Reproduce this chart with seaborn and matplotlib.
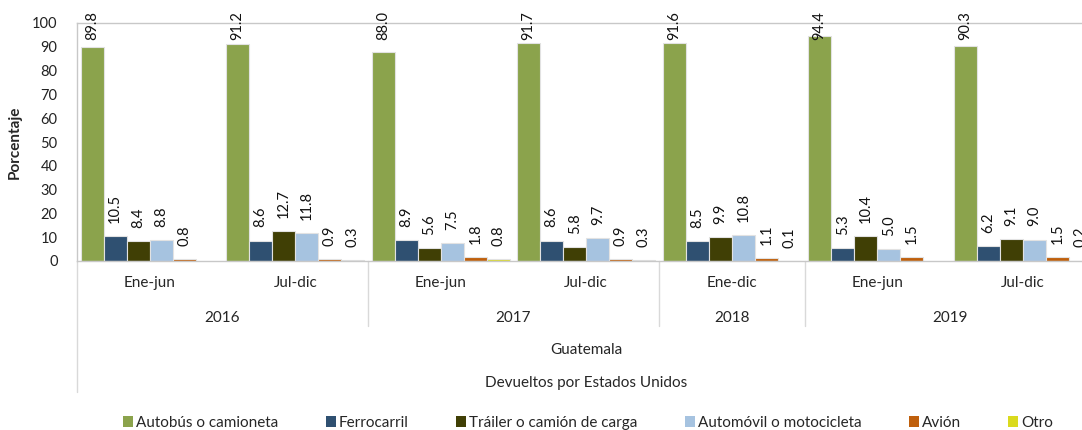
import numpy as np
import pandas as pd
import matplotlib
matplotlib.use("Agg")
import matplotlib.pyplot as plt
from matplotlib.patches import Patch
import seaborn as sns

# periods (year, sub-period)
years = ["2016", "2016", "2017", "2017", "2018", "2019", "2019"]
periods = ["Ene-jun", "Jul-dic", "Ene-jun", "Jul-dic", "Ene-dic", "Ene-jun", "Jul-dic"]

series = ["Autobús o camioneta", "Ferrocarril", "Tráiler o camión de carga",
          "Automóvil o motocicleta", "Avión", "Otro"]
autobus = [89.8, 91.2, 88.0, 91.7, 91.6, 94.4, 90.3]
ferrocarril = [10.5, 8.6, 8.9, 8.6, 8.5, 5.3, 6.2]
trailer = [8.4, 12.7, 5.6, 5.8, 9.9, 10.4, 9.1]
automovil = [8.8, 11.8, 7.5, 9.7, 10.8, 5.0, 9.0]
avion = [0.8, 0.9, 1.8, 0.9, 1.1, 1.5, 1.5]
otro = [np.nan, 0.3, 0.8, 0.3, 0.1, np.nan, 0.2]

colors = ["#8BA34C", "#2F5071", "#403F05", "#A6C3E0", "#BF5F0C", "#DADA1E"]

keys = [y + " " + p for y, p in zip(years, periods)]
rows = []
for name, vals in zip(series, [autobus, ferrocarril, trailer, automovil, avion, otro]):
    for k, v in zip(keys, vals):
        rows.append({"periodo": k, "medio": name, "valor": v})
df = pd.DataFrame(rows).dropna()

sns.set_style("white")
plt.rcParams["font.family"] = ["Lato", "DejaVu Sans"]
fs = 10.5   # numbers
ft = 11     # words

fig = plt.figure(figsize=(10.82, 4.30), dpi=100)
ax = fig.add_axes([77 / 1082, 169 / 430, 7 * 145.5 / 1082, 238 / 430])

sns.barplot(data=df, x="periodo", y="valor", hue="medio", order=keys,
            hue_order=series, palette=colors, width=0.95, saturation=1,
            edgecolor="#E2E2E2", linewidth=0.8, legend=False, ax=ax)

ax.set_ylim(0, 100)
ax.set_xlim(-0.5, 6.5)
ax.set_yticks(range(0, 101, 10))
ax.tick_params(axis="y", length=0, pad=14, labelsize=fs, labelcolor="#222222")
ax.tick_params(axis="x", length=0)
ax.set_xticklabels([])
ax.set_xlabel("")
ax.set_ylabel("Porcentaje", fontsize=ft, fontweight="bold")
ax.yaxis.set_label_coords(-0.054, 0.5)
for s in ["top", "left", "bottom", "right"]:
    ax.spines[s].set_color("#C8C8C8")
    ax.spines[s].set_linewidth(1)

# data labels
for cont in ax.containers:
    for bar in cont:
        h = bar.get_height()
        if np.isnan(h):
            continue
        ax.text(bar.get_x() + bar.get_width() / 2, min(h + 5.5, 92.8), f"{h:.1f}",
                rotation=90, ha="center", va="bottom", fontsize=fs,
                color="#111111", clip_on=False)

# multi-level category axis
tr = ax.get_xaxis_transform()
for i, p in enumerate(periods):
    ax.text(i, -0.092, p, transform=tr, ha="center", va="center", fontsize=ft)
year_names = ["2016", "2017", "2018", "2019"]
year_pos = [0.5, 2.5, 4, 5.5]
for y, xp in zip(year_names, year_pos):
    ax.text(xp, -0.24, y, transform=tr, ha="center", va="center", fontsize=ft)
ax.text(3, -0.374, "Guatemala", transform=tr, ha="center", va="center", fontsize=ft)
ax.text(3, -0.513, "Devueltos por Estados Unidos", transform=tr, ha="center",
        va="center", fontsize=ft)
for xb in [1.5, 3.5, 4.5]:
    ax.plot([xb, xb], [0, -0.273], transform=tr, color="#D9D9D9", lw=1, clip_on=False)
ax.plot([-0.5, -0.5], [0, -0.55], transform=tr, color="#D9D9D9", lw=1, clip_on=False)

handles = [Patch(facecolor=c, edgecolor="none") for c in colors]
fig.legend(handles, series, loc="center", bbox_to_anchor=(588 / 1082, 7 / 430),
           ncol=6, frameon=False, fontsize=ft, handlelength=0.65, handleheight=0.75,
           handletextpad=0.2, columnspacing=3.1)

fig.savefig("out.png", dpi=100)
